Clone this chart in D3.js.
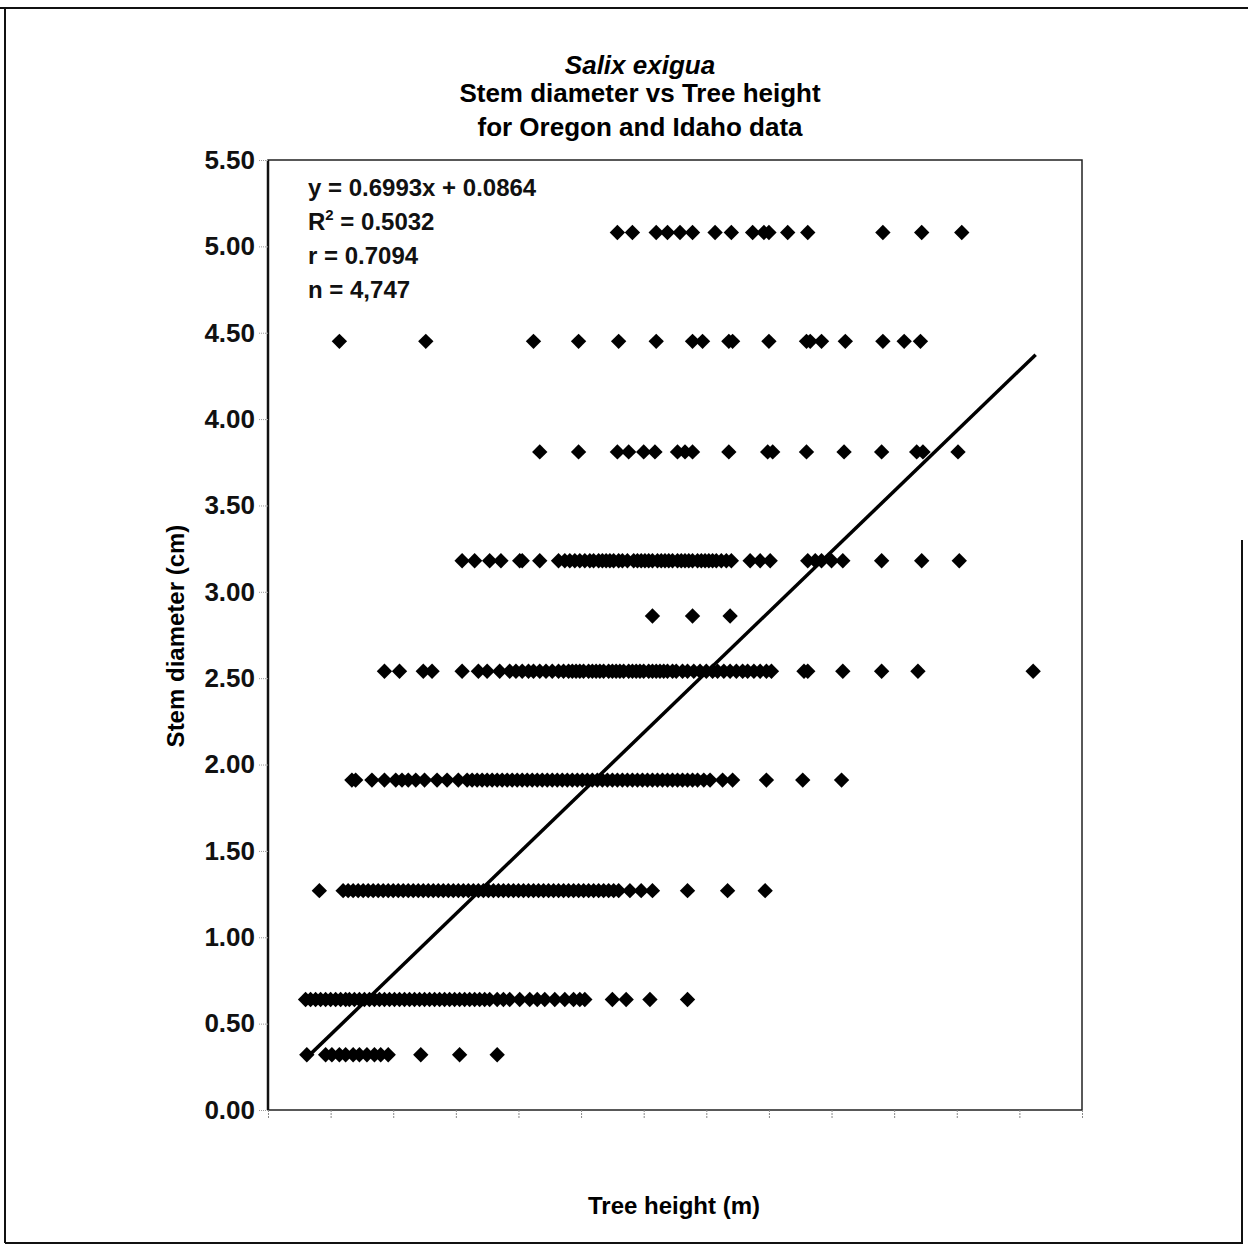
<!DOCTYPE html>
<html>
<head>
<meta charset="utf-8">
<script src="https://cdn.jsdelivr.net/npm/d3@7"></script>
<style>
  body { margin: 0; background: #fff; }
  svg { display: block; font-family: "Liberation Sans", Arial, sans-serif; }
</style>
</head>
<body>
<div id="chart"></div>
<script>
// stem diameter classes (cm) and tree heights (m)
const diameters = [5.08, 4.45, 3.81, 3.18, 2.86, 2.54, 1.91, 1.27, 0.64, 0.32]

const heights508 = [2.79, 2.91, 3.10, 3.19, 3.29, 3.39, 3.57, 3.70, 3.87, 3.96, 4.00, 4.15, 4.31, 4.91, 5.22, 5.54]
const heights445 = [0.57, 1.26, 2.12, 2.48, 2.80, 3.10, 3.39, 3.47, 3.68, 3.71, 4.00, 4.30, 4.33, 4.42, 4.61, 4.91, 5.08, 5.21]
const heights381 = [2.17, 2.48, 2.79, 2.88, 3.00, 3.09, 3.27, 3.33, 3.39, 3.68, 3.99, 4.03, 4.30, 4.60, 4.90, 5.18, 5.23, 5.51]
const heights318 = [1.55, 1.65, 1.77, 1.86, 2.01, 2.03, 2.17, 2.32, 2.37, 2.41, 2.45, 2.49, 2.53, 2.57, 2.60, 2.64,
  2.67, 2.70, 2.73, 2.76, 2.80, 2.83, 2.87, 2.92, 2.95, 2.98, 3.01, 3.04, 3.07, 3.11, 3.14, 3.17, 3.20, 3.23,
  3.27, 3.30, 3.33, 3.36, 3.39, 3.43, 3.46, 3.49, 3.52, 3.55, 3.58, 3.62, 3.66, 3.70, 3.85, 3.93, 4.01, 4.31,
  4.37, 4.42, 4.50, 4.59, 4.90, 5.22, 5.52]
const heights286 = [3.07, 3.39, 3.69]
const heights254 = [0.93, 1.05, 1.24, 1.31, 1.55, 1.68, 1.75, 1.85, 1.93, 1.98, 2.03, 2.08, 2.12, 2.17, 2.22, 2.27,
  2.32, 2.36, 2.40, 2.43, 2.46, 2.49, 2.52, 2.56, 2.59, 2.62, 2.65, 2.68, 2.72, 2.75, 2.78, 2.81, 2.84, 2.88,
  2.91, 2.94, 2.97, 3.00, 3.04, 3.07, 3.10, 3.13, 3.16, 3.19, 3.23, 3.26, 3.31, 3.35, 3.40, 3.45, 3.50, 3.55,
  3.59, 3.64, 3.69, 3.74, 3.79, 3.83, 3.88, 3.93, 3.98, 4.02, 4.28, 4.31, 4.59, 4.90, 5.19, 6.11]
const heights191 = [0.67, 0.70, 0.83, 0.93, 1.02, 1.07, 1.12, 1.18, 1.25, 1.35, 1.43, 1.52, 1.59, 1.63, 1.67, 1.71,
  1.75, 1.79, 1.83, 1.87, 1.91, 1.95, 1.99, 2.03, 2.07, 2.11, 2.15, 2.19, 2.23, 2.27, 2.31, 2.35, 2.39, 2.43,
  2.47, 2.51, 2.55, 2.59, 2.63, 2.67, 2.71, 2.75, 2.79, 2.83, 2.87, 2.91, 2.95, 2.99, 3.03, 3.07, 3.11, 3.15,
  3.19, 3.23, 3.27, 3.31, 3.35, 3.39, 3.43, 3.48, 3.53, 3.63, 3.71, 3.98, 4.27, 4.58]
const heights127 = [0.41, 0.60, 0.64, 0.68, 0.72, 0.76, 0.80, 0.84, 0.88, 0.92, 0.96, 1.00, 1.04, 1.08, 1.12, 1.16,
  1.20, 1.24, 1.28, 1.32, 1.36, 1.40, 1.44, 1.48, 1.52, 1.56, 1.60, 1.64, 1.68, 1.72, 1.76, 1.80, 1.84, 1.88,
  1.92, 1.96, 2.00, 2.04, 2.08, 2.12, 2.16, 2.20, 2.24, 2.28, 2.32, 2.36, 2.40, 2.44, 2.48, 2.52, 2.56, 2.60,
  2.64, 2.68, 2.72, 2.76, 2.80, 2.89, 2.98, 3.07, 3.35, 3.67, 3.97]
const heights064 = [0.30, 0.34, 0.38, 0.42, 0.46, 0.50, 0.54, 0.58, 0.62, 0.65, 0.69, 0.73, 0.77, 0.81, 0.85, 0.89,
  0.93, 0.97, 1.01, 1.05, 1.09, 1.13, 1.17, 1.21, 1.25, 1.29, 1.33, 1.37, 1.41, 1.45, 1.49, 1.53, 1.57, 1.61,
  1.65, 1.69, 1.73, 1.77, 1.83, 1.88, 1.93, 2.01, 2.09, 2.15, 2.21, 2.29, 2.37, 2.44, 2.49, 2.53, 2.75, 2.86,
  3.05, 3.35]
const heights032 = [0.31, 0.46, 0.51, 0.57, 0.62, 0.68, 0.73, 0.79, 0.85, 0.90, 0.96, 1.22, 1.53, 1.83]

const heightRows = [heights508, heights445, heights381, heights318, heights286,
  heights254, heights191, heights127, heights064, heights032]

// fitted line y = 0.6993x + 0.0864 over the height range
const slope = 0.6993
const intercept = 0.0864
const fitRange = [0.31, 6.13]

const yTicks = [0, 0.5, 1, 1.5, 2, 2.5, 3, 3.5, 4, 4.5, 5, 5.5]
const xTicks = [0, 0.5, 1, 1.5, 2, 2.5, 3, 3.5, 4, 4.5, 5, 5.5, 6, 6.5]
const statLines = ["y = 0.6993x + 0.0864", "R2 = 0.5032", "r = 0.7094", "n = 4,747"]

const W = 1248, H = 1257
const plot = { left: 268, top: 160, right: 1082, bottom: 1110 }

const points = []
diameters.forEach((d, i) => {
  heightRows[i].forEach(h => points.push({ h: h, d: d }))
})

const svg = d3.select("#chart").append("svg")
  .attr("width", W)
  .attr("height", H)

// page frame
svg.append("line").attr("x1", 0).attr("x2", W).attr("y1", 8).attr("y2", 8)
  .attr("stroke", "#111").attr("stroke-width", 2)
svg.append("line").attr("x1", 5).attr("x2", 5).attr("y1", 8).attr("y2", 1243)
  .attr("stroke", "#111").attr("stroke-width", 2)
svg.append("line").attr("x1", 5).attr("x2", 1243).attr("y1", 1243).attr("y2", 1243)
  .attr("stroke", "#111").attr("stroke-width", 2)
svg.append("line").attr("x1", 1242).attr("x2", 1242).attr("y1", 540).attr("y2", 1243)
  .attr("stroke", "#111").attr("stroke-width", 2)

const x = d3.scaleLinear().domain([0, 6.5]).range([plot.left, plot.right])
const y = d3.scaleLinear().domain([0, 5.5]).range([plot.bottom, plot.top])

// plot box
svg.append("rect")
  .attr("x", plot.left).attr("y", plot.top)
  .attr("width", plot.right - plot.left).attr("height", plot.bottom - plot.top)
  .attr("fill", "none").attr("stroke", "#222").attr("stroke-width", 1.5)
svg.append("line")
  .attr("x1", plot.left).attr("x2", plot.left).attr("y1", plot.top).attr("y2", plot.bottom)
  .attr("stroke", "#111").attr("stroke-width", 2.5)

// y axis
const yAxis = svg.append("g")
  .attr("transform", `translate(${plot.left},0)`)
  .call(d3.axisLeft(y).tickValues(yTicks).tickFormat(d3.format(".2f")).tickSize(10).tickPadding(3))
yAxis.select(".domain").remove()
yAxis.selectAll(".tick line").attr("stroke", "#999").attr("stroke-dasharray", "1,1")
yAxis.selectAll(".tick text")
  .style("font-size", "26px").style("font-weight", "bold").attr("fill", "#111")

// x axis, ticks only
const xAxis = svg.append("g")
  .attr("transform", `translate(0,${plot.bottom})`)
  .call(d3.axisBottom(x).tickValues(xTicks).tickFormat("").tickSize(8))
xAxis.select(".domain").remove()
xAxis.selectAll(".tick line").attr("stroke", "#888").attr("stroke-dasharray", "2,1")

// points
svg.append("g")
  .selectAll("path")
  .data(points)
  .join("path")
  .attr("d", d3.symbol(d3.symbolSquare, 118))
  .attr("transform", d => `translate(${x(d.h)},${y(d.d)}) rotate(45)`)
  .attr("fill", "#000")

// trend line
const line = d3.line()
  .x(h => x(h))
  .y(h => y(slope * h + intercept))
svg.append("path")
  .datum(fitRange)
  .attr("d", line)
  .attr("fill", "none")
  .attr("stroke", "#000")
  .attr("stroke-width", 3.5)

// stats text
const stats = svg.append("g")
  .style("font-size", "24px").style("font-weight", "bold").attr("fill", "#111")
statLines.forEach((s, i) => {
  const t = stats.append("text").attr("x", 308).attr("y", 196 + i * 34)
  if (s.startsWith("R2")) {
    t.append("tspan").text("R")
    t.append("tspan").attr("dy", -10).style("font-size", "15px").text("2")
    t.append("tspan").attr("dy", 10).text(s.slice(2))
  } else {
    t.text(s)
  }
})

// titles
svg.append("text")
  .attr("x", 640).attr("y", 74)
  .attr("text-anchor", "middle")
  .style("font-size", "26px").style("font-weight", "bold").style("font-style", "italic")
  .text("Salix exigua")
svg.append("text")
  .attr("x", 640).attr("y", 102)
  .attr("text-anchor", "middle")
  .style("font-size", "26px").style("font-weight", "bold")
  .text("Stem diameter vs Tree height")
svg.append("text")
  .attr("x", 640).attr("y", 136)
  .attr("text-anchor", "middle")
  .style("font-size", "26px").style("font-weight", "bold")
  .text("for Oregon and Idaho data")

// axis labels
svg.append("text")
  .attr("transform", "translate(184,636) rotate(-90)")
  .attr("text-anchor", "middle")
  .style("font-size", "24px").style("font-weight", "bold")
  .text("Stem diameter (cm)")
svg.append("text")
  .attr("x", 674).attr("y", 1214)
  .attr("text-anchor", "middle")
  .style("font-size", "24px").style("font-weight", "bold")
  .text("Tree height (m)")
</script>
</body>
</html>
